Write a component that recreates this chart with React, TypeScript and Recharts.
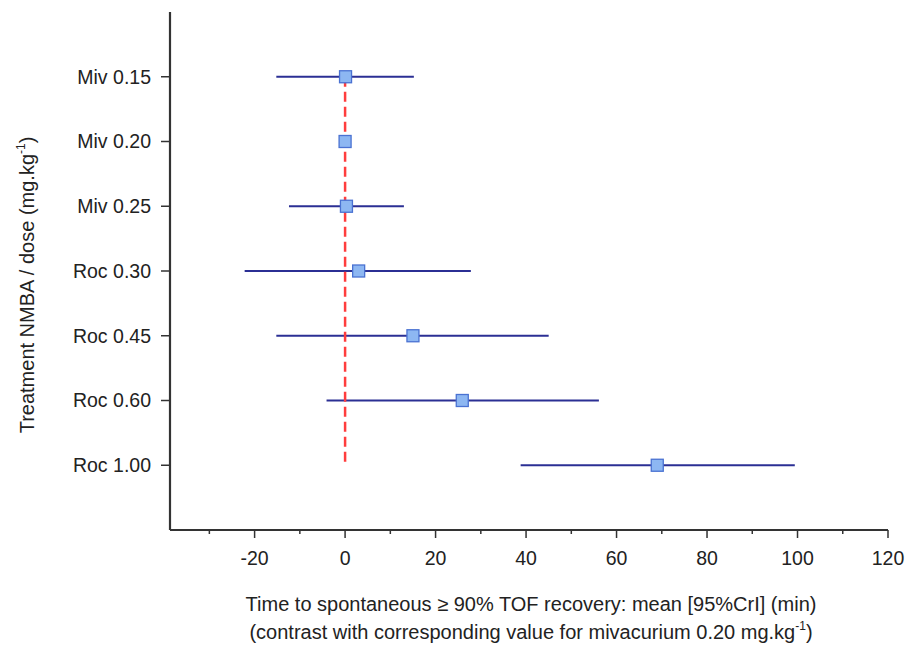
import React from 'react';
import { ScatterChart, Scatter, XAxis, YAxis, ErrorBar } from 'recharts';

const categories = ['Miv 0.15', 'Miv 0.20', 'Miv 0.25', 'Roc 0.30', 'Roc 0.45', 'Roc 0.60', 'Roc 1.00'];
const means = [0.1, 0, 0.3, 3.0, 15.0, 25.9, 69.0];
const lower = [-15.2, 0, -12.4, -22.2, -15.2, -4.1, 38.8];
const upper = [15.2, 0, 13.0, 27.8, 45.0, 56.1, 99.4];
const xTicks = [-30, -20, -10, 0, 10, 20, 30, 40, 50, 60, 70, 80, 90, 100, 110, 120];
const yTicks = [1, 2, 3, 4, 5, 6, 7];
const refLine = [
  { x: 0, y: 1 },
  { x: 0, y: 7 },
];

const data = categories.map((c, i) => ({
  name: c,
  x: means[i],
  y: i + 1,
  err: [means[i] - lower[i], upper[i] - means[i]],
}));

const FONT = '"Liberation Sans", Arial, sans-serif';
const AXIS = '#333333';
const TXT = '#222';

const XTick = (props: any) => {
  const { x, y, payload } = props;
  const v = payload.value;
  const major = v % 20 === 0;
  return (
    <g>
      <line x1={x} x2={x} y1={y} y2={y + (major ? 8 : 4)} stroke={AXIS} strokeWidth={1.5} />
      {major && (
        <text x={x} y={y + 35} textAnchor="middle" fontSize={19.5} fontFamily={FONT} fill={TXT}>
          {v}
        </text>
      )}
    </g>
  );
};

const XLabel = (props: any) => {
  const vb = props.viewBox || {};
  const cx = vb.x + vb.width / 2 + 2;
  return (
    <g fontFamily={FONT} fontSize={20} fill={TXT}>
      <text x={cx} y={611} textAnchor="middle">
        Time to spontaneous ≥ 90% TOF recovery: mean [95%CrI] (min)
      </text>
      <text x={cx} y={639} textAnchor="middle">
        (contrast with corresponding value for mivacurium 0.20 mg.kg
        <tspan fontSize={12} dy={-9}>-1</tspan>
        <tspan dy={9}>)</tspan>
      </text>
    </g>
  );
};

const YLabel = () => (
  <text
    transform="translate(34,285) rotate(-90)"
    textAnchor="middle"
    fontFamily={FONT}
    fontSize={20}
    fill={TXT}
  >
    Treatment NMBA / dose (mg.kg
    <tspan fontSize={12} dy={-9}>-1</tspan>
    <tspan dy={9}>)</tspan>
  </text>
);

const Marker = (props: any) => {
  const { cx, cy } = props;
  const s = 12;
  return (
    <rect x={cx - s / 2} y={cy - s / 2} width={s} height={s} fill="#8db7f2" stroke="#4a72d2" strokeWidth={1.3} />
  );
};

const NoShape = () => <g />;

export default function App() {
  return (
    <div style={{ position: 'absolute', left: 0, top: 0, width: 907, height: 646, background: '#fff' }}>
      <ScatterChart width={907} height={646} margin={{ top: 12, right: 19, bottom: 0, left: 0 }}>
        <XAxis
          type="number"
          dataKey="x"
          domain={[-38.7, 120]}
          ticks={xTicks}
          interval={0}
          allowDataOverflow
          height={116}
          axisLine={{ stroke: AXIS, strokeWidth: 2.2 }}
          tickLine={false}
          tickSize={0}
          tickMargin={0}
          tick={<XTick />}
          label={<XLabel />}
        />
        <YAxis
          type="number"
          dataKey="y"
          domain={[0, 8]}
          reversed
          ticks={yTicks}
          interval={0}
          width={170}
          axisLine={{ stroke: AXIS, strokeWidth: 2.2 }}
          tickLine={{ stroke: AXIS, strokeWidth: 1.5 }}
          tickSize={9}
          tickMargin={10}
          tickFormatter={(v: number) => categories[v - 1] ?? ''}
          tick={{ fontSize: 19.5, fontFamily: FONT, fill: TXT }}
          label={<YLabel />}
        />
        <Scatter
          data={refLine}
          isAnimationActive={false}
          line={{ stroke: '#ff3d3d', strokeWidth: 2.5, strokeDasharray: '10 5' }}
          shape={<NoShape />}
        />
        <Scatter data={data} isAnimationActive={false} shape={<Marker />}>
          <ErrorBar dataKey="err" direction="x" width={0} stroke="#2b2f94" strokeWidth={2} isAnimationActive={false} />
        </Scatter>
      </ScatterChart>
    </div>
  );
}
